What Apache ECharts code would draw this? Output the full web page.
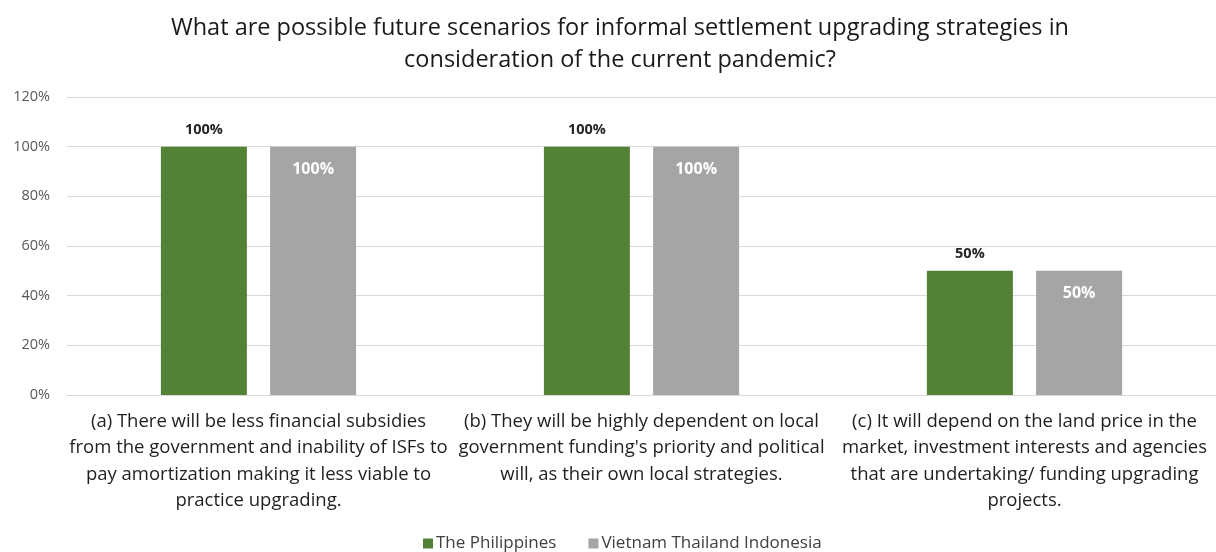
<!DOCTYPE html>
<html>
<head>
<meta charset="utf-8">
<script src="https://cdn.jsdelivr.net/npm/echarts@6/dist/echarts.min.js"></script>
<style>
  html, body { margin: 0; padding: 0; background: #ffffff; }
  #chart { width: 1216px; height: 552px; }
</style>
</head>
<body>
<div id="chart"></div>
<script>
// Survey answers: share of respondents choosing each scenario
const categories = [
  '(a) There will be less financial subsidies\nfrom the government and inability of ISFs to\npay amortization making it less viable to\npractice upgrading.',
  '(b) They will be highly dependent on local\ngovernment funding\'s priority and political\nwill, as their own local strategies.',
  '(c) It will depend on the land price in the\nmarket, investment interests and agencies\nthat are undertaking/ funding upgrading\nprojects.'
];
const seriesNames = ['The Philippines', 'Vietnam Thailand Indonesia'];
const philippines = [100, 100, 50];
const vietnamThailandIndonesia = [100, 100, 50];
const yTicks = { min: 0, max: 120, interval: 20 };

const FONT = '"Open Sans", Lato, sans-serif';

const chart = echarts.init(document.getElementById('chart'), null, { renderer: 'canvas' });
chart.setOption({
  animation: false,
  backgroundColor: '#ffffff',
  title: {
    text: 'What are possible future scenarios for informal settlement upgrading strategies in\nconsideration of the current pandemic?',
    left: 615,
    textAlign: 'center',
    top: 7,
    textStyle: {
      fontFamily: FONT,
      fontSize: 23.5,
      fontWeight: 'normal',
      color: '#1a1a1a',
      lineHeight: 32
    }
  },
  legend: {
    top: 535,
    left: 423,
    padding: 0,
    itemWidth: 10,
    itemHeight: 10,
    itemGap: 32,
    icon: 'rect',
    textStyle: { fontFamily: FONT, fontSize: 17, color: '#404040', padding: [0, 0, 0, -2] },
    data: seriesNames
  },
  grid: { left: 67, right: 0, top: 97, bottom: 157, containLabel: false },
  xAxis: {
    type: 'category',
    data: categories,
    axisLine: { show: true, lineStyle: { color: '#d9d9d9', width: 1 } },
    axisTick: { show: false },
    axisLabel: {
      interval: 0,
      margin: 13,
      fontFamily: FONT,
      fontSize: 18.5,
      lineHeight: 26.5,
      color: '#1f1f1f',
      align: 'center'
    }
  },
  yAxis: {
    type: 'value',
    min: yTicks.min,
    max: yTicks.max,
    interval: yTicks.interval,
    axisLine: { show: false },
    axisTick: { show: false },
    splitLine: { lineStyle: { color: '#d9d9d9', width: 1 } },
    axisLabel: {
      formatter: '{value}%',
      margin: 17,
      fontFamily: FONT,
      fontSize: 14.5,
      color: '#595959'
    }
  },
  series: [
    {
      name: seriesNames[0],
      type: 'bar',
      data: philippines,
      barWidth: 86,
      barGap: '27%',
      itemStyle: { color: '#538135' },
      label: {
        show: true,
        position: 'top',
        distance: 9,
        formatter: '{c}%',
        fontFamily: FONT,
        fontSize: 14.5,
        fontWeight: 'bold',
        color: '#262626'
      }
    },
    {
      name: seriesNames[1],
      type: 'bar',
      data: vietnamThailandIndonesia,
      barWidth: 86,
      itemStyle: { color: '#a5a5a5' },
      label: {
        show: true,
        position: 'insideTop',
        distance: 15,
        formatter: '{c}%',
        fontFamily: FONT,
        fontSize: 16,
        fontWeight: 'bold',
        color: '#ffffff'
      }
    }
  ]
});
</script>
</body>
</html>
